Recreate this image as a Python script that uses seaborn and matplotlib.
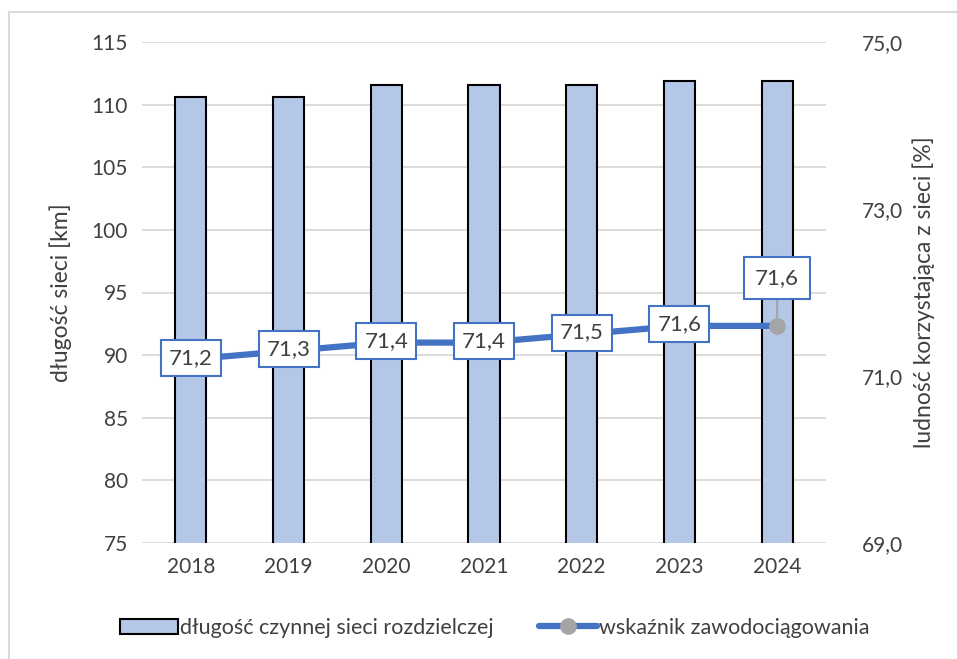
import numpy as np
import pandas as pd
import matplotlib
matplotlib.use("Agg")
import matplotlib.pyplot as plt
import seaborn as sns
from matplotlib.patches import Patch
from matplotlib.lines import Line2D

years = ["2018", "2019", "2020", "2021", "2022", "2023", "2024"]
siec_km = [110.6, 110.6, 111.6, 111.6, 111.6, 111.9, 111.9]
wskaznik = [71.2, 71.3, 71.4, 71.4, 71.5, 71.6, 71.6]
wskaznik_labels = ["71,2", "71,3", "71,4", "71,4", "71,5", "71,6", "71,6"]
left_ticks = [75, 80, 85, 90, 95, 100, 105, 110, 115]
right_ticks = [69.0, 71.0, 73.0, 75.0]
right_ticklabels = ["69,0", "71,0", "73,0", "75,0"]

sns.set_style("white")
plt.rcParams['font.family'] = ['Lato', 'DejaVu Sans']

BAR = "#B4C7E7"
LINE = "#4472C4"
MARK = "#A5A5A5"
TXT = "#404040"
GRID = "#D9D9D9"

df = pd.DataFrame({"rok": years, "km": siec_km, "proc": wskaznik})

fig = plt.figure(figsize=(9.57, 6.59), dpi=100)
# plot area ~ x 142..826, y 42..543 px
ax = fig.add_axes([142 / 957, 1 - 543 / 659, 684 / 957, 501 / 659])

sns.barplot(data=df, x="rok", y="km", color=BAR, width=0.32, edgecolor="black",
            linewidth=1.5, saturation=1, ax=ax, zorder=2)
ax.set_ylim(75, 115)
ax.set_yticks(left_ticks)
ax.set_xlim(-0.5, 6.5)
ax.grid(axis="y", color=GRID, linewidth=1.3, zorder=0)
ax.set_axisbelow(True)
for s in ax.spines.values():
    s.set_visible(False)
ax.tick_params(length=0, labelsize=15, colors=TXT, pad=10)
ax.set_xlabel("")
ax.set_ylabel("długość sieci [km]", fontsize=16.5, color=TXT)
ax.yaxis.set_label_coords(-0.102, 0.5)

ax2 = ax.twinx()
pos = np.arange(len(years))
sns.lineplot(x=pos, y=wskaznik, color=LINE, linewidth=4.5, ax=ax2, zorder=3)
ax2.plot(pos, wskaznik, linestyle="none", marker="o", markersize=11,
         color=MARK, zorder=4)
ax2.set_ylim(69, 75)
ax2.set_yticks(right_ticks)
ax2.set_yticklabels(right_ticklabels)
for s in ax2.spines.values():
    s.set_visible(False)
ax2.tick_params(length=0, labelsize=15, colors=TXT, pad=26)
ax2.set_ylabel("ludność korzystająca z sieci [%]", fontsize=16.5, color=TXT)
ax2.yaxis.set_label_coords(1.126, 0.5)

box = dict(boxstyle="square,pad=0.36", facecolor="white", edgecolor=LINE, linewidth=1.5)
for i, (v, lab) in enumerate(zip(wskaznik, wskaznik_labels)):
    if i == len(years) - 1:
        ax2.annotate(lab, xy=(i, v), xytext=(i, v + 0.575), ha="center", va="center",
                     fontsize=16, color=TXT, bbox=dict(box, boxstyle="square,pad=0.5"),
                     zorder=6,
                     arrowprops=dict(arrowstyle="-", color=MARK, linewidth=1.5,
                                     shrinkA=0, shrinkB=0))
    else:
        ax2.text(i, v + 0.02, lab, ha="center", va="center", fontsize=16,
                 color=TXT, bbox=box, zorder=6)

handles = [
    Patch(facecolor=BAR, edgecolor="black", linewidth=1.5,
          label="długość czynnej sieci rozdzielczej"),
    Line2D([0], [0], color=LINE, linewidth=4.5, marker="o", markersize=11,
           markerfacecolor=MARK, markeredgecolor=MARK, label="wskaźnik zawodociągowania"),
]
fig.legend(handles=handles, loc="center", bbox_to_anchor=(0.517, 0.047), ncol=2,
           frameon=False, fontsize=15.5, labelcolor=TXT, handlelength=2.7,
           handletextpad=0.1, columnspacing=2.1)

# light frame: left and top edges only are visible in the reference
fig.add_artist(Line2D([9 / 957, 9 / 957], [0, 1 - 12 / 659], transform=fig.transFigure,
                      color=GRID, linewidth=1.5))
fig.add_artist(Line2D([9 / 957, 1], [1 - 12 / 659, 1 - 12 / 659], transform=fig.transFigure,
                      color=GRID, linewidth=1.5))

fig.savefig("out.png", dpi=100)
